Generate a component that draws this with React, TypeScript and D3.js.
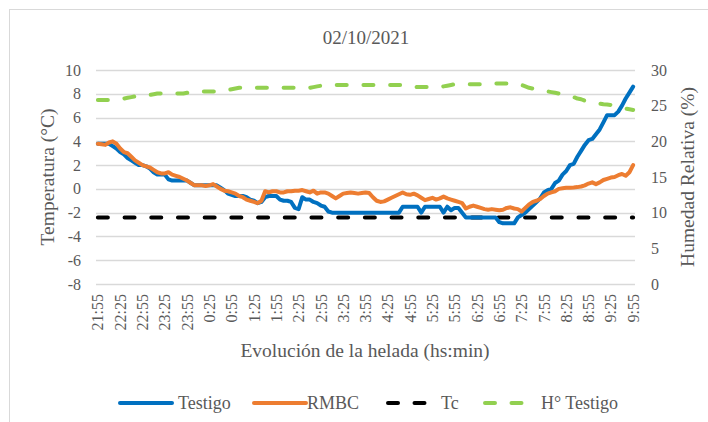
import React from "react";
import * as d3 from "d3";

const TITLE = "02/10/2021";
const X_TITLE = "Evolución de la helada (hs:min)";
const Y_TITLE = "Temperatura (°C)";
const Y2_TITLE = "Humedad Relativa (%)";

// 5-minute readings from 21:55 to 9:55 (145 readings)
const START_MIN = 21 * 60 + 55;
const STEP_MIN = 5;
const N_POINTS = 145;

const TICK_LABELS = [
  "21:55", "22:25", "22:55", "23:25", "23:55", "0:25", "0:55", "1:25", "1:55",
  "2:25", "2:55", "3:25", "3:55", "4:25", "4:55", "5:25", "5:55", "6:25",
  "6:55", "7:25", "7:55", "8:25", "8:55", "9:25", "9:55",
];
const TICK_EVERY = 6;

const Y_TICKS = [-8, -6, -4, -2, 0, 2, 4, 6, 8, 10];
const Y2_TICKS = [0, 5, 10, 15, 20, 25, 30];

const TESTIGO = [
  3.8, 3.8, 3.8, 3.8, 3.6, 3.4, 3.1, 2.9, 2.6, 2.4,
  2.2, 2.0, 2.0, 1.9, 1.7, 1.4, 1.2, 1.2, 1.2, 0.8,
  0.7, 0.7, 0.7, 0.7, 0.7, 0.5, 0.3, 0.3, 0.3, 0.3,
  0.3, 0.3, 0.3, 0.1, -0.1, -0.4, -0.5, -0.6, -0.6, -0.6,
  -0.7, -0.9, -1.0, -1.2, -1.1, -0.7, -0.6, -0.6, -0.6, -0.9,
  -1.0, -1.0, -1.1, -1.6, -1.7, -0.7, -0.9, -0.9, -1.1, -1.2,
  -1.4, -1.5, -1.9, -2.0, -2.0, -2.0, -2.0, -2.0, -2.0, -2.0,
  -2.0, -2.0, -2.0, -2.0, -2.0, -2.0, -2.0, -2.0, -2.0, -2.0,
  -2.0, -2.0, -1.5, -1.5, -1.5, -1.5, -1.5, -2.0, -1.5, -1.5,
  -1.5, -1.5, -1.5, -2.0, -1.5, -1.8, -1.6, -1.6, -2.0, -2.4,
  -2.4, -2.4, -2.4, -2.4, -2.4, -2.4, -2.4, -2.4, -2.8, -2.9,
  -2.9, -2.9, -2.9, -2.4, -2.2, -2.0, -1.7, -1.4, -1.1, -0.8,
  -0.3, -0.1, 0.0, 0.5, 0.7, 1.2, 1.5, 2.0, 2.1, 2.7,
  3.2, 3.7, 4.1, 4.2, 4.6, 5.0, 5.6, 6.2, 6.2, 6.2,
  6.5, 7.0, 7.6, 8.1, 8.6,
];

const RMBC = [
  3.8, 3.75, 3.7, 3.9, 4.0, 3.8, 3.4, 3.1, 3.0, 2.7,
  2.4, 2.2, 2.0, 1.9, 1.8, 1.6, 1.4, 1.3, 1.3, 1.4,
  1.2, 1.1, 1.0, 0.85, 0.7, 0.5, 0.3, 0.3, 0.3, 0.25,
  0.3, 0.4, 0.2, 0.0, -0.15, -0.2, -0.3, -0.4, -0.6, -0.7,
  -0.9, -1.0, -1.1, -1.2, -1.0, -0.2, -0.3, -0.2, -0.2, -0.3,
  -0.3, -0.2, -0.2, -0.15, -0.15, -0.1, -0.2, -0.3, -0.15, -0.4,
  -0.3, -0.3, -0.4, -0.6, -0.8, -0.6, -0.4, -0.35, -0.3, -0.35,
  -0.4, -0.35, -0.3, -0.35, -0.7, -1.0, -1.1, -1.05, -0.9, -0.75,
  -0.6, -0.45, -0.3, -0.45, -0.5, -0.4, -0.55, -0.75, -0.95, -0.85,
  -0.75, -0.9, -0.8, -0.65, -0.8, -0.9, -1.0, -1.1, -1.2, -1.65,
  -1.5, -1.4, -1.5, -1.6, -1.7, -1.75, -1.7, -1.75, -1.8, -1.75,
  -1.6, -1.55, -1.65, -1.7, -1.9, -1.6, -1.3, -1.1, -1.0, -0.85,
  -0.6, -0.4, -0.3, -0.2, 0.0, 0.05, 0.1, 0.1, 0.12, 0.15,
  0.2, 0.3, 0.45, 0.55, 0.4, 0.55, 0.75, 0.85, 0.95, 1.0,
  1.15, 1.25, 1.1, 1.4, 2.0,
];

const TC_VALUE = -2.4;

const H_TESTIGO = [
  25.8, 25.8, 25.8, 25.8, 25.8, 25.9, 26.0, 26.0, 26.1, 26.2,
  26.3, 26.3, 26.3, 26.4, 26.5, 26.6, 26.7, 26.7, 26.7, 26.7,
  26.7, 26.7, 26.7, 26.7, 26.8, 26.9, 27.0, 27.0, 27.0, 27.0,
  27.0, 27.0, 27.0, 27.0, 27.1, 27.2, 27.3, 27.4, 27.5, 27.5,
  27.5, 27.5, 27.5, 27.5, 27.5, 27.5, 27.5, 27.5, 27.5, 27.5,
  27.5, 27.5, 27.5, 27.5, 27.5, 27.5, 27.5, 27.5, 27.6, 27.7,
  27.8, 27.9, 27.9, 27.9, 27.9, 27.9, 27.9, 27.9, 27.9, 27.9,
  27.9, 27.9, 27.9, 27.9, 27.9, 27.9, 27.9, 27.9, 27.9, 27.9,
  27.9, 27.9, 27.9, 27.9, 27.8, 27.7, 27.6, 27.6, 27.6, 27.6,
  27.6, 27.6, 27.6, 27.7, 27.8, 27.9, 28.0, 28.0, 28.0, 28.0,
  28.0, 28.0, 28.0, 28.0, 28.0, 28.0, 28.0, 28.1, 28.1, 28.1,
  28.1, 28.1, 28.1, 28.1, 27.9, 27.7, 27.5, 27.4, 27.3, 27.2,
  27.1, 27.0, 26.9, 26.8, 26.7, 26.6, 26.4, 26.3, 26.2, 26.0,
  25.9, 25.7, 25.6, 25.5, 25.4, 25.3, 25.2, 25.15, 25.1, 25.0,
  24.9, 24.8, 24.6, 24.5, 24.4,
];

const COLORS = {
  testigo: "#0070C0",
  rmbc: "#ED7D31",
  tc: "#000000",
  hum: "#92D050",
  grid: "#D9D9D9",
  text: "#595959",
};

const W = 708;
const H = 422;
const PLOT = { left: 96, right: 635, top: 70, bottom: 284 };
const FONT = '"Liberation Serif", "Tinos"';
const LW = 4;

function timeLabel(i: number): string {
  const m = (START_MIN + i * STEP_MIN) % (24 * 60);
  const h = Math.floor(m / 60);
  const mm = m % 60;
  return `${h}:${mm < 10 ? "0" : ""}${mm}`;
}

export default function App() {
  const categories = d3.range(N_POINTS).map(timeLabel);
  const x = d3
    .scaleBand<string>()
    .domain(categories)
    .range([PLOT.left, PLOT.right]);
  const cx = (i: number) => (x(categories[i]) as number) + x.bandwidth() / 2;
  const y = d3.scaleLinear().domain([-8, 10]).range([PLOT.bottom, PLOT.top]);
  const y2 = d3.scaleLinear().domain([0, 30]).range([PLOT.bottom, PLOT.top]);

  const lineT = d3
    .line<number>()
    .x((_, i) => cx(i))
    .y((d) => y(d));
  const lineH = d3
    .line<number>()
    .x((_, i) => cx(i))
    .y((d) => y2(d));

  const tcD = `M${cx(0)},${y(TC_VALUE)}L${cx(N_POINTS - 1)},${y(TC_VALUE)}`;

  const legendY = 403;
  const legendItems = [
    { label: "Testigo", color: COLORS.testigo, dash: "", x1: 120, x2: 172, tx: 178 },
    { label: "RMBC", color: COLORS.rmbc, dash: "", x1: 254, x2: 306, tx: 307 },
    { label: "Tc", color: COLORS.tc, dash: "10 16.5", x1: 388, x2: 428, tx: 441 },
    { label: "H° Testigo", color: COLORS.hum, dash: "10 16.5", x1: 485, x2: 525, tx: 541 },
  ];

  const txt = { fontFamily: FONT, fill: COLORS.text } as React.CSSProperties;

  return (
    <svg width={W} height={H} style={{ position: "absolute", left: 0, top: 0, background: "#fff" }}>
      <rect x={9.5} y={9.5} width={720} height={440} fill="#fff" stroke={COLORS.grid} strokeWidth={1} />
      <text x={366} y={44} textAnchor="middle" fontSize={19} style={txt}>
        {TITLE}
      </text>

      {/* gridlines */}
      {Y_TICKS.map((t) => (
        <line
          key={"g" + t}
          x1={PLOT.left}
          x2={PLOT.right}
          y1={Math.round(y(t)) + 0.5}
          y2={Math.round(y(t)) + 0.5}
          stroke={COLORS.grid}
          strokeWidth={1.3}
        />
      ))}

      {/* left ticks */}
      {Y_TICKS.map((t) => (
        <text key={"yl" + t} x={81} y={y(t)} dy="0.35em" textAnchor="end" fontSize={16} style={txt}>
          {t}
        </text>
      ))}
      {/* right ticks */}
      {Y2_TICKS.map((t) => (
        <text key={"yr" + t} x={651} y={y2(t)} dy="0.35em" textAnchor="start" fontSize={16} style={txt}>
          {t}
        </text>
      ))}

      {/* x tick labels */}
      {TICK_LABELS.map((lab, k) => {
        const xi = cx(k * TICK_EVERY);
        return (
          <text
            key={"xt" + k}
            transform={`translate(${xi},${294}) rotate(-90)`}
            dy="0.35em"
            textAnchor="end"
            fontSize={16}
            style={txt}
          >
            {lab}
          </text>
        );
      })}

      {/* axis titles */}
      <text transform={`translate(47,${177}) rotate(-90)`} dy="0.35em" textAnchor="middle" fontSize={19.5} style={txt}>
        {Y_TITLE}
      </text>
      <text transform={`translate(687,${177}) rotate(-90)`} dy="0.35em" textAnchor="middle" fontSize={19.5} style={txt}>
        {Y2_TITLE}
      </text>
      <text x={365} y={357} textAnchor="middle" fontSize={19.5} style={txt}>
        {X_TITLE}
      </text>

      {/* series */}
      <path d={tcD} fill="none" stroke={COLORS.tc} strokeWidth={LW} strokeDasharray="10 16.7" strokeLinecap="round" />
      <path
        d={lineH(H_TESTIGO) as string}
        fill="none"
        stroke={COLORS.hum}
        strokeWidth={LW}
        strokeDasharray="10 16.7"
        strokeLinecap="round"
        strokeLinejoin="round"
      />
      <path
        d={lineT(TESTIGO) as string}
        fill="none"
        stroke={COLORS.testigo}
        strokeWidth={LW}
        strokeLinejoin="round"
        strokeLinecap="round"
      />
      <path
        d={lineT(RMBC) as string}
        fill="none"
        stroke={COLORS.rmbc}
        strokeWidth={LW}
        strokeLinejoin="round"
        strokeLinecap="round"
      />

      {/* legend */}
      {legendItems.map((it) => (
        <g key={it.label}>
          <line
            x1={it.x1}
            x2={it.x2}
            y1={legendY}
            y2={legendY}
            stroke={it.color}
            strokeWidth={LW}
            strokeLinecap="round"
            strokeDasharray={it.dash || undefined}
          />
          <text x={it.tx} y={legendY} dy="0.35em" fontSize={18} style={txt}>
            {it.label}
          </text>
        </g>
      ))}
    </svg>
  );
}
